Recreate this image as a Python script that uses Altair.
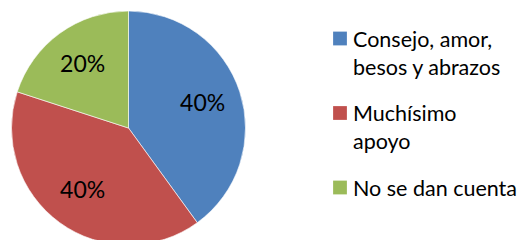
import altair as alt
import pandas as pd

categories = ["Consejo, amor,|besos y abrazos", "Muchísimo|apoyo", "No se dan cuenta"]
values = [40, 40, 20]
labels = ["40%", "40%", "20%"]
colors = ["#4F81BD", "#C0504D", "#9BBB59"]
legend_rows = [0, 1, 2]

df = pd.DataFrame({"cat": categories, "val": values, "lab": labels, "ord": legend_rows})
color_scale = alt.Scale(domain=categories, range=colors)

base = alt.Chart(df).encode(
    theta=alt.Theta("val:Q", stack=True),
    order=alt.Order("ord:Q"),
    x=alt.value(120.5),
    y=alt.value(120),
)

pie = base.mark_arc(radius=117, stroke="white", strokeWidth=0.6).encode(
    color=alt.Color("cat:N", scale=color_scale, legend=None)
)

text = base.mark_text(radius=78, font="Lato", fontSize=23, color="#000000").encode(
    text="lab:N"
)

leg_base = alt.Chart(df).transform_calculate(
    lines="split(datum.cat, '|')"
).encode(
    y=alt.Y("ord:Q", scale=alt.Scale(domain=[0, 2], range=[30.5, 179.5]), axis=None)
)

leg_sq = leg_base.mark_square(size=190, opacity=1).encode(
    x=alt.value(332),
    color=alt.Color("cat:N", scale=color_scale, legend=None),
)

leg_txt = leg_base.mark_text(
    align="left", baseline="alphabetic", dy=8, lineHeight=28,
    font="Lato", fontSize=21.5, color="#000000"
).encode(
    x=alt.value(345),
    text=alt.Text("lines:N"),
)

chart = (
    alt.layer(pie, text, leg_sq, leg_txt)
    .properties(width=511, height=232, autosize=alt.AutoSizeParams(type="none"), padding=0)
    .configure_view(stroke=None)
)

chart.save("out.html", embed_options={"renderer": "svg", "actions": False})
